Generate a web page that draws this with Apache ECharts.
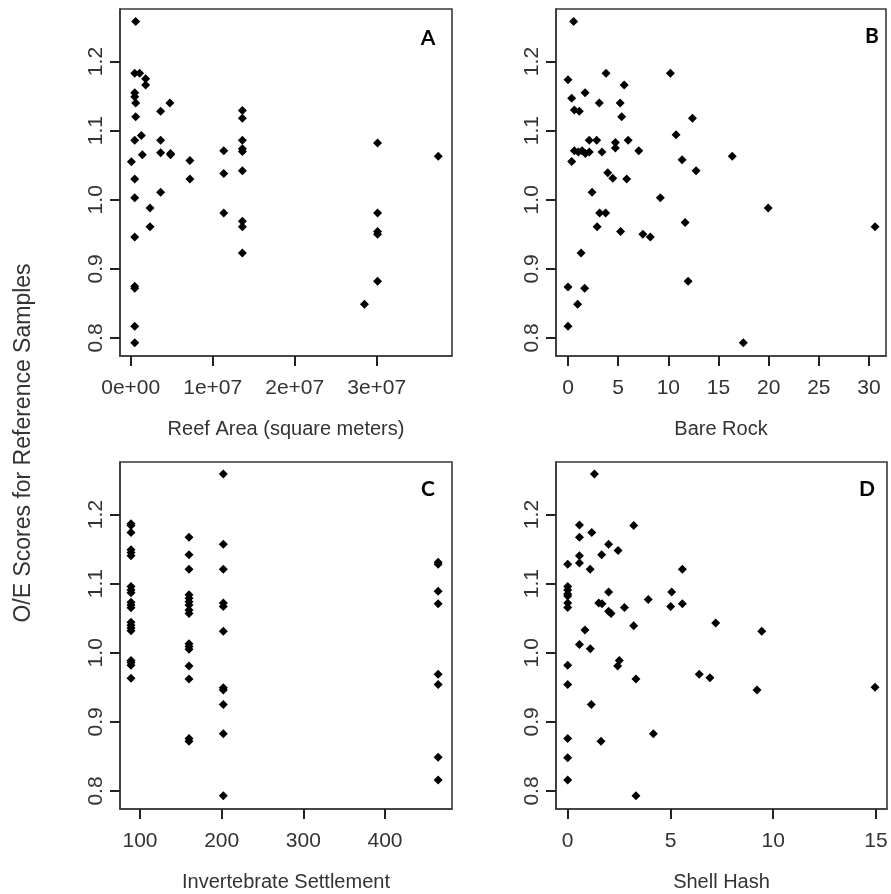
<!DOCTYPE html>
<html><head><meta charset="utf-8">
<script src="https://cdn.jsdelivr.net/npm/echarts@6/dist/echarts.min.js"></script>
<style>html,body{margin:0;padding:0;background:#fff}#c{width:891px;height:894px}</style>
</head><body><div id="c"></div>
<script>
// ---- data ----
const yTitle = 'O/E Scores for Reference Samples';
const oeTicks = [0.8, 0.9, 1.0, 1.1, 1.2];
const reefAreaTicks = [0, 1e7, 2e7, 3e7];
const bareRockTicks = [0, 5, 10, 15, 20, 25, 30];
const settlementTicks = [100, 200, 300, 400];
const shellHashTicks = [0, 5, 10, 15];
const panelNames = ['A', 'B', 'C', 'D'];
const xTitles = ['Reef Area (square meters)', 'Bare Rock', 'Invertebrate Settlement', 'Shell Hash'];

const reefAreaPoints = [[6.1e5,1.258],[4.9e5,1.183],[1.09e6,1.183],[1.82e6,1.175],[1.82e6,1.166],[4.9e5,1.155],[4.9e5,1.149],[6.1e5,1.140],[6.1e5,1.120],[4.9e5,1.086],[1.3e6,1.093],[1.42e6,1.065],[8e4,1.055],[4.9e5,1.030],[4.9e5,1.003],[4.9e5,0.946],[4.9e5,0.875],[4.9e5,0.872],[4.9e5,0.817],[4.9e5,0.793],[2.35e6,0.988],[2.35e6,0.961],[3.65e6,1.128],[3.65e6,1.086],[3.65e6,1.068],[3.65e6,1.011],[4.78e6,1.140],[4.86e6,1.067],[4.86e6,1.065],[7.22e6,1.057],[7.22e6,1.030],[1.135e7,1.071],[1.135e7,1.038],[1.135e7,0.981],[1.362e7,1.129],[1.362e7,1.118],[1.362e7,1.086],[1.362e7,1.074],[1.362e7,1.070],[1.362e7,1.042],[1.362e7,0.969],[1.362e7,0.961],[1.362e7,0.923],[3.01e7,1.082],[3.01e7,0.981],[3.01e7,0.954],[3.01e7,0.950],[3.01e7,0.882],[2.85e7,0.849],[3.75e7,1.063]];

const bareRockPoints = [[0.56,1.258],[0,1.1735],[3.79,1.183],[10.2,1.183],[5.6,1.166],[0.37,1.147],[1.7,1.155],[3.12,1.140],[5.2,1.140],[0.63,1.13],[1.13,1.128],[5.35,1.120],[12.4,1.118],[10.77,1.094],[2.12,1.086],[2.86,1.086],[4.72,1.083],[4.72,1.075],[6.0,1.086],[7.05,1.071],[0.63,1.071],[1.03,1.069],[1.4,1.071],[1.73,1.067],[2.12,1.069],[3.39,1.069],[0.37,1.0555],[11.37,1.058],[12.76,1.042],[3.96,1.039],[4.46,1.031],[5.85,1.030],[16.37,1.063],[2.4,1.011],[9.2,1.003],[3.15,0.981],[3.75,0.981],[2.9,0.961],[5.24,0.954],[7.46,0.950],[8.2,0.946],[11.67,0.967],[19.95,0.988],[30.6,0.961],[1.3,0.923],[0,0.874],[1.66,0.872],[0.96,0.849],[11.97,0.882],[0,0.817],[17.47,0.793]];

const settlementPoints = [[89,1.1865],[89,1.184],[89,1.174],[89,1.149],[89,1.145],[89,1.1405],[89,1.096],[89,1.091],[89,1.087],[89,1.073],[89,1.069],[89,1.065],[89,1.044],[89,1.040],[89,1.036],[89,1.032],[89,0.989],[89,0.986],[89,0.982],[89,0.963],
[160,1.167],[160,1.142],[160,1.121],[160,1.084],[160,1.079],[160,1.074],[160,1.069],[160,1.062],[160,1.057],[160,1.013],[160,1.009],[160,1.005],[160,0.981],[160,0.962],[160,0.876],[160,0.872],
[202,1.2585],[202,1.157],[202,1.121],[202,1.072],[202,1.067],[202,1.031],[202,0.9495],[202,0.946],[202,0.925],[202,0.883],[202,0.793],
[465,1.131],[465,1.128],[465,1.089],[465,1.071],[465,0.969],[465,0.954],[465,0.849],[465,0.816]];

const shellHashPoints = [[1.30,1.2585],[0.57,1.185],[3.21,1.184],[1.17,1.174],[0.57,1.167],[1.99,1.157],[2.45,1.148],[1.65,1.142],[0.57,1.1405],[0.57,1.130],[0,1.128],[1.09,1.121],[5.58,1.121],[0,1.096],[0,1.091],[0,1.085],[0,1.082],[0,1.072],[0,1.0655],[1.99,1.088],[5.06,1.088],[3.92,1.077],[1.51,1.072],[1.67,1.071],[5.58,1.071],[5.01,1.067],[2.76,1.0655],[1.99,1.060],[2.11,1.057],[3.21,1.039],[7.2,1.043],[0.84,1.033],[9.44,1.031],[0.57,1.012],[1.1,1.006],[0,0.982],[2.51,0.989],[2.43,0.981],[3.32,0.962],[6.4,0.969],[6.92,0.964],[0,0.954],[9.21,0.946],[14.95,0.950],[1.15,0.925],[0,0.876],[1.62,0.872],[4.17,0.883],[0,0.848],[0,0.816],[3.32,0.793]];

// ---- layout ----
const panels = [
  {pts: reefAreaPoints, ticks: reefAreaTicks, min: -1.305e6, max: 3.918e7, left: 120, top: 9, width: 332, height: 347,
   fmt: v => v === 0 ? '0e+00' : (v / 1e7) + 'e+07', letter: [428, 38]},
  {pts: bareRockPoints, ticks: bareRockTicks, min: -1.196, max: 31.69, left: 556, top: 9, width: 330, height: 347,
   fmt: v => String(v), letter: [872, 36]},
  {pts: settlementPoints, ticks: settlementTicks, min: 75.5, max: 482, left: 120, top: 462, width: 332, height: 347,
   fmt: v => String(v), letter: [428, 489]},
  {pts: shellHashPoints, ticks: shellHashTicks, min: -0.569, max: 15.535, left: 556, top: 462, width: 331, height: 347,
   fmt: v => String(v), letter: [867, 489]}
];

const textColor = '#333';
const frameColor = '#3a3a3a';
const lineW = 1.6;
const tickW = 2;
const fontFamily = '"Liberation Sans", Arial, sans-serif';

const option = {
  backgroundColor: '#fff',
  animation: false,
  grid: panels.map(p => ({left: p.left, top: p.top, width: p.width, height: p.height,
    show: true, borderColor: frameColor, borderWidth: lineW, backgroundColor: 'transparent'})),
  xAxis: panels.map((p, i) => ({
    type: 'value', gridIndex: i, min: p.min, max: p.max,
    name: xTitles[i], nameLocation: 'middle', nameGap: 63,
    nameTextStyle: {color: textColor, fontSize: 20, fontFamily},
    axisLine: {show: true, onZero: false, lineStyle: {color: frameColor, width: lineW}},
    axisTick: {show: true, length: 10, customValues: p.ticks, lineStyle: {color: '#222', width: tickW}},
    axisLabel: {customValues: p.ticks, formatter: p.fmt, margin: 22, color: textColor, fontSize: 21, fontFamily},
    splitLine: {show: false}
  })),
  yAxis: panels.map((p, i) => ({
    type: 'value', gridIndex: i, min: 0.774, max: 1.276,
    axisLine: {show: true, onZero: false, lineStyle: {color: frameColor, width: lineW}},
    axisTick: {show: true, length: 10, customValues: oeTicks, lineStyle: {color: '#222', width: tickW}},
    axisLabel: {customValues: oeTicks, formatter: v => v.toFixed(1), rotate: 90, margin: 13,
      color: textColor, fontSize: 21, fontFamily},
    splitLine: {show: false}
  })),
  series: panels.map((p, i) => ({
    type: 'scatter', xAxisIndex: i, yAxisIndex: i, data: p.pts,
    symbol: 'diamond', symbolSize: 9, itemStyle: {color: '#000', opacity: 1}, silent: true
  })),
  graphic: [
    {type: 'text', x: 24, y: 443, rotation: Math.PI / 2,
      style: {text: yTitle, fill: textColor, font: '23px ' + fontFamily, align: 'center', verticalAlign: 'middle'}},
    ...panels.map((p, i) => ({type: 'text', x: p.letter[0], y: p.letter[1],
      style: {text: panelNames[i], fill: '#000', font: 'bold 21px Lato, "Open Sans", sans-serif', align: 'center', verticalAlign: 'middle'}}))
  ]
};

const chart = echarts.init(document.getElementById('c'), null, {renderer: 'canvas'});
chart.setOption(option);
</script>
</body></html>
